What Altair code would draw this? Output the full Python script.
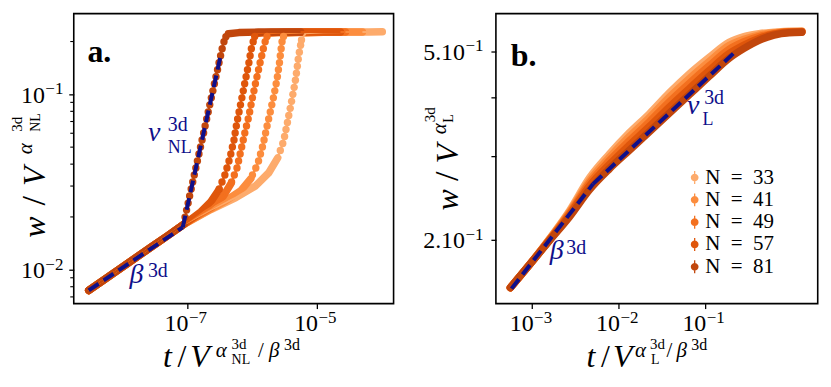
import altair as alt
import pandas as pd

FONT = "Liberation Serif"
NAVY = "#0f0f8a"

SIZES = [33, 41, 49, 57, 81]
COLORS = ["#fdab6c", "#fc8d3e", "#f3701f", "#df560b", "#c1460c"]

# ---------------- panel a : log10 values ----------------
TRUNK_T = [-8.518, -8.300, -8.050, -7.800, -7.550, -7.300, -7.046]
TRUNK_W = [-2.118, -2.062, -1.998, -1.934, -1.870, -1.806, -1.740]

A33_EARLY_T = [-6.631, -6.246, -5.938, -5.738, -5.600]
A33_EARLY_W = [-1.657, -1.589, -1.521, -1.447, -1.362]
A33_RISE_T = [-5.560, -5.522, -5.494, -5.472, -5.450, -5.429, -5.407, -5.386, -5.366,
              -5.346, -5.327, -5.311, -5.297, -5.283, -5.266, -5.247, -5.233]
A33_RISE_W = [-1.32, -1.28, -1.24, -1.20, -1.16, -1.12, -1.08, -1.04, -1.00,
              -0.96, -0.92, -0.88, -0.84, -0.80, -0.76, -0.72, -0.69]
A33_LATE_T = [-5.169, -4.900, -4.500, -4.200, -3.985]
A33_LATE_W = [-0.652, -0.646, -0.645, -0.645, -0.643]

A41_EARLY_T = [-6.708, -6.400, -6.169, -6.015]
A41_EARLY_W = [-1.669, -1.606, -1.549, -1.481]
A41_RISE_T = [-5.989, -5.938, -5.896, -5.866, -5.836, -5.811, -5.787, -5.764, -5.740, -5.715,
              -5.691, -5.667, -5.645, -5.624, -5.605, -5.589, -5.573, -5.560, -5.547, -5.533, -5.510]
A41_RISE_W = [-1.46, -1.42, -1.38, -1.34, -1.30, -1.26, -1.22, -1.18, -1.14, -1.10,
              -1.06, -1.02, -0.98, -0.94, -0.90, -0.86, -0.82, -0.78, -0.74, -0.70, -0.67]
A41_LATE_T = [-5.492, -5.200, -4.800, -4.500, -4.292]
A41_LATE_W = [-0.652, -0.646, -0.645, -0.645, -0.645]

A49_EARLY_T = [-6.862, -6.631, -6.446, -6.323]
A49_EARLY_W = [-1.697, -1.646, -1.584, -1.510]
A49_RISE_T = [-6.312, -6.270, -6.229, -6.204, -6.180, -6.156, -6.132, -6.108, -6.082, -6.056, -6.033,
              -6.012, -5.990, -5.967, -5.944, -5.920, -5.896, -5.872, -5.847, -5.822, -5.794, -5.765]
A49_RISE_W = [-1.50, -1.46, -1.42, -1.38, -1.34, -1.30, -1.26, -1.22, -1.18, -1.14, -1.10,
              -1.06, -1.02, -0.98, -0.94, -0.90, -0.86, -0.82, -0.78, -0.74, -0.70, -0.67]
A49_LATE_T = [-5.738, -5.500, -5.100, -4.800, -4.554]
A49_LATE_W = [-0.652, -0.646, -0.645, -0.645, -0.645]

A57_EARLY_T = [-6.969, -6.785, -6.631, -6.508]
A57_EARLY_W = [-1.720, -1.669, -1.612, -1.544]
A57_RISE_T = [-6.503, -6.460, -6.416, -6.384, -6.352, -6.324, -6.300, -6.275, -6.257, -6.239, -6.219, -6.197,
              -6.175, -6.153, -6.132, -6.110, -6.088, -6.067, -6.045, -6.026, -6.007, -5.979, -5.955]
A57_RISE_W = [-1.54, -1.50, -1.46, -1.42, -1.38, -1.34, -1.30, -1.26, -1.22, -1.18, -1.14, -1.10,
              -1.06, -1.02, -0.98, -0.94, -0.90, -0.86, -0.82, -0.78, -0.74, -0.70, -0.67]
A57_LATE_T = [-5.908, -5.700, -5.300, -4.900, -4.631]
A57_LATE_W = [-0.652, -0.646, -0.645, -0.645, -0.645]

A81_EARLY_T = []
A81_EARLY_W = []
A81_RISE_T = [-7.031, -7.007, -6.983, -6.960, -6.936, -6.912, -6.888, -6.864, -6.840, -6.816, -6.792, -6.768, -6.744,
              -6.721, -6.697, -6.673, -6.649, -6.625, -6.601, -6.577, -6.553, -6.529, -6.506, -6.482, -6.458, -6.430, -6.400]
A81_RISE_W = [-1.70, -1.66, -1.62, -1.58, -1.54, -1.50, -1.46, -1.42, -1.38, -1.34, -1.30, -1.26, -1.22,
              -1.18, -1.14, -1.10, -1.06, -1.02, -0.98, -0.94, -0.90, -0.86, -0.82, -0.78, -0.74, -0.70, -0.672]
A81_LATE_T = [-6.360, -6.200, -5.900, -5.600, -5.246]
A81_LATE_W = [-0.655, -0.648, -0.645, -0.645, -0.645]

A_BETA_T = [-8.518, -7.066]
A_BETA_W = [-2.118, -1.758]
A_NU_T = [-7.066, -6.477]
A_NU_W = [-1.758, -0.773]

# ---------------- panel b ----------------
B_T = [-3.251, -3.027, -2.796, -2.565, -2.334, -2.104, -1.873, -1.642, -1.412,
       -1.181, -0.950, -0.719, -0.546, -0.373, -0.200, -0.027, 0.123]
B33_W = [-0.800, -0.751, -0.696, -0.637, -0.568, -0.518, -0.473, -0.433, -0.389,
         -0.349, -0.314, -0.282, -0.270, -0.264, -0.261, -0.259, -0.259]
B41_W = [-0.800, -0.751, -0.697, -0.640, -0.574, -0.525, -0.481, -0.441, -0.398,
         -0.359, -0.323, -0.289, -0.276, -0.267, -0.262, -0.260, -0.259]
B49_W = [-0.800, -0.751, -0.698, -0.643, -0.579, -0.532, -0.490, -0.450, -0.408,
         -0.369, -0.332, -0.297, -0.281, -0.270, -0.264, -0.260, -0.260]
B57_W = [-0.800, -0.751, -0.699, -0.646, -0.585, -0.540, -0.499, -0.460, -0.419,
         -0.380, -0.342, -0.306, -0.288, -0.274, -0.265, -0.261, -0.260]
B81_W = [-0.800, -0.751, -0.700, -0.650, -0.593, -0.549, -0.510, -0.471, -0.432,
         -0.393, -0.354, -0.316, -0.295, -0.278, -0.267, -0.262, -0.261]

B_BETA_T = [-3.238, -2.293]
B_BETA_W = [-0.802, -0.581]
B_NU_T = [-2.293, -0.662]
B_NU_W = [-0.581, -0.3046]

A_XLIM = [-8.749, -3.811]
A_YLIM = [-2.193, -0.540]
B_XLIM = [-3.419, 0.307]
B_YLIM = [-0.8336, -0.2217]

# tick values and their labels (mantissa, exponent)
A_XTICKS = [1e-7, 1e-5]
A_XEXP = ["−7", "−5"]
A_YTICKS = [1e-2, 1e-1]
A_YEXP = ["−2", "−1"]
A_MINOR = [0.007, 0.008, 0.009, 0.02, 0.03, 0.04, 0.05, 0.06, 0.07, 0.08, 0.09, 0.2]
B_XTICKS = [1e-3, 1e-2, 1e-1]
B_XEXP = ["−3", "−2", "−1"]
B_YTICKS = [0.2, 0.3, 0.4, 0.5]
B_YLAB = [0.2, 0.5]
B_YBASE = ["2.10", "5.10"]
B_YEXP = ["−1", "−1"]

# ---------------- tables ----------------
A_SERIES = {
    33: (A33_EARLY_T, A33_EARLY_W, A33_RISE_T, A33_RISE_W, A33_LATE_T, A33_LATE_W),
    41: (A41_EARLY_T, A41_EARLY_W, A41_RISE_T, A41_RISE_W, A41_LATE_T, A41_LATE_W),
    49: (A49_EARLY_T, A49_EARLY_W, A49_RISE_T, A49_RISE_W, A49_LATE_T, A49_LATE_W),
    57: (A57_EARLY_T, A57_EARLY_W, A57_RISE_T, A57_RISE_W, A57_LATE_T, A57_LATE_W),
    81: (A81_EARLY_T, A81_EARLY_W, A81_RISE_T, A81_RISE_W, A81_LATE_T, A81_LATE_W),
}
rows = []
for n in SIZES:
    et, ew, rt, rw, lt, lw = A_SERIES[n]
    for t, w in zip(TRUNK_T + et, TRUNK_W + ew):
        rows.append({"N": n, "seg": "early", "t": 10 ** t, "w": 10 ** w})
    for t, w in zip(rt, rw):
        rows.append({"N": n, "seg": "rise", "t": 10 ** t, "w": 10 ** w})
    for t, w in zip(lt, lw):
        rows.append({"N": n, "seg": "late", "t": 10 ** t, "w": 10 ** w})
df_a = pd.DataFrame(rows)

fit_a = pd.DataFrame(
    [{"seg": "beta", "t": 10 ** t, "w": 10 ** w} for t, w in zip(A_BETA_T, A_BETA_W)]
    + [{"seg": "nu", "t": 10 ** t, "w": 10 ** w} for t, w in zip(A_NU_T, A_NU_W)]
)

B_SERIES = {33: B33_W, 41: B41_W, 49: B49_W, 57: B57_W, 81: B81_W}
df_b = pd.DataFrame(
    [{"N": n, "t": 10 ** t, "w": 10 ** w} for n in SIZES for t, w in zip(B_T, B_SERIES[n])]
)
fit_b = pd.DataFrame(
    [{"seg": "beta", "t": 10 ** t, "w": 10 ** w} for t, w in zip(B_BETA_T, B_BETA_W)]
    + [{"seg": "nu", "t": 10 ** t, "w": 10 ** w} for t, w in zip(B_NU_T, B_NU_W)]
)


def txt(s, x, y, size, style="normal", weight="normal", color="black", angle=0):
    return alt.Chart(pd.DataFrame({"s": [s]})).mark_text(
        align="left", baseline="alphabetic", font=FONT, fontSize=size,
        fontStyle=style, fontWeight=weight, color=color, angle=angle,
    ).encode(x=alt.value(x), y=alt.value(y), text="s:N")


def xlabels(vals, exps, XENC):
    df = pd.DataFrame({"t": vals, "b": ["10"] * len(vals), "e": exps})
    base = alt.Chart(df).mark_text(align="right", baseline="alphabetic", font=FONT,
                                   fontSize=24, dx=1.5).encode(
        x=XENC, y=alt.value(318.4), text="b:N")
    exp = alt.Chart(df).mark_text(align="left", baseline="alphabetic", font=FONT,
                                  fontSize=17, dx=2).encode(
        x=XENC, y=alt.value(310.5), text="e:N")
    return [base, exp]


def ylabels(vals, bases, exps, YENC, xr):
    df = pd.DataFrame({"w": vals, "b": bases, "e": exps})
    base = alt.Chart(df).mark_text(align="right", baseline="alphabetic", font=FONT,
                                   fontSize=24, dy=8.4).encode(
        y=YENC, x=alt.value(xr), text="b:N")
    exp = alt.Chart(df).mark_text(align="left", baseline="alphabetic", font=FONT,
                                  fontSize=17, dy=0).encode(
        y=YENC, x=alt.value(xr + 0.5), text="e:N")
    return [base, exp]


# ---------------- panel a ----------------
cscale = alt.Scale(domain=SIZES, range=COLORS)
color_a = alt.Color("N:O", scale=cscale, legend=None)

xa = alt.Scale(type="log", domain=[10 ** A_XLIM[0], 10 ** A_XLIM[1]], nice=False)
ya = alt.Scale(type="log", domain=[10 ** A_YLIM[0], 10 ** A_YLIM[1]], nice=False)
ax_xa = alt.Axis(values=A_XTICKS, title=None, labels=False)
ax_ya = alt.Axis(values=A_YTICKS, title=None, labels=False)
XA = alt.X("t:Q", scale=xa, axis=ax_xa)
YA = alt.Y("w:Q", scale=ya, axis=ax_ya)

thick_a = alt.Chart(df_a).transform_filter("datum.seg != 'rise'").mark_line(
    strokeWidth=7.5, strokeCap="round", strokeJoin="round"
).encode(x=XA, y=YA, color=color_a, detail="seg:N")
thin_a = alt.Chart(df_a).mark_line(strokeWidth=2).encode(x=XA, y=YA, color=color_a)
pts_a = alt.Chart(df_a).transform_filter("datum.seg == 'rise'").mark_circle(size=55, opacity=1).encode(
    x=XA, y=YA, color=color_a)
fitl_a = alt.Chart(fit_a).mark_line(color=NAVY, strokeWidth=4, strokeDash=[12, 6]).encode(
    x=XA, y=YA, detail="seg:N")
minor_a = alt.Chart(pd.DataFrame({"w": A_MINOR})).mark_rule(color="black", strokeWidth=1.1).encode(
    y=YA, x=alt.value(0), x2=alt.value(-3.5))

texts_a = [
    txt("a.", 13.7, 48.7, 32, weight="bold"),
    txt("ν", 74.4, 127.7, 28, style="italic", color=NAVY),
    txt("3d", 94.4, 117.7, 20, color=NAVY),
    txt("NL", 94.4, 139.4, 18, color=NAVY),
    txt("β", 56, 270, 28, style="italic", color=NAVY),
    txt("3d", 74.4, 264.4, 20, color=NAVY),
    # x title
    txt("t", 89.5, 355, 32, style="italic"),
    txt("/", 104.0, 355, 32),
    txt("V", 117.0, 355, 32, style="italic"),
    txt("α", 142.5, 344.4, 21, style="italic"),
    txt("3d", 158.4, 337.0, 15),
    txt("NL", 158.4, 352.0, 14),
    txt("/", 185.0, 344.4, 21),
    txt("β", 196.0, 344.4, 21, style="italic"),
    txt("3d", 211.0, 337.5, 16),
    # y title
    txt("w", -29, 225.0, 32, style="italic", angle=270),
    txt("/", -29, 192.5, 34, angle=270),
    txt("V", -29, 173.0, 32, style="italic", angle=270),
    txt("α", -42.3, 141.0, 21, style="italic", angle=270),
    txt("3d", -52.3, 118.5, 15, angle=270),
    txt("NL", -34.0, 118.5, 14, angle=270),
]
ticklab_a = xlabels(A_XTICKS, A_XEXP, XA) + ylabels(A_YTICKS, ["10", "10"], A_YEXP, YA, -29)

panel_a = alt.layer(thick_a, thin_a, pts_a, fitl_a, minor_a, *ticklab_a, *texts_a).properties(
    width=321, height=291)

# ---------------- panel b ----------------
xb = alt.Scale(type="log", domain=[10 ** B_XLIM[0], 10 ** B_XLIM[1]], nice=False)
yb = alt.Scale(type="log", domain=[10 ** B_YLIM[0], 10 ** B_YLIM[1]], nice=False)
ax_xb = alt.Axis(values=B_XTICKS, title=None, labels=False)
ax_yb = alt.Axis(values=B_YTICKS, title=None, labels=False)
XB = alt.X("t:Q", scale=xb, axis=ax_xb)
YB = alt.Y("w:Q", scale=yb, axis=ax_yb)

SYMBOL = ("M-0.1,-1L0.1,-1L0.1,1L-0.1,1Z"
          "M0.6,0A0.6,0.6,0,1,1,-0.6,0A0.6,0.6,0,1,1,0.6,0Z")
legend_b = alt.Legend(
    orient="none", legendX=189, legendY=154.0, title=None,
    symbolType=SYMBOL, symbolSize=169, symbolOpacity=1, symbolStrokeWidth=0,
    labelFont=FONT, labelFontSize=21, labelOffset=0, rowPadding=0.4, padding=0,
    labelColor="black", labelExpr="'N\u2002=\u2002' + datum.label",
)

pts_b = alt.Chart(df_b).mark_point(filled=True, size=20, shape="circle", opacity=1).encode(
    x=XB, y=YB, color=alt.Color("N:O", scale=cscale, legend=legend_b))
lines_b = alt.Chart(df_b).mark_line(strokeWidth=7.5, strokeCap="round", strokeJoin="round",
                                    interpolate="monotone").encode(
    x=XB, y=YB, color=alt.Color("N:O", scale=cscale, legend=legend_b))
fitl_b = alt.Chart(fit_b).mark_line(color=NAVY, strokeWidth=4, strokeDash=[12, 6]).encode(
    x=XB, y=YB, detail="seg:N")

texts_b = [
    txt("b.", 15, 52.7, 32, weight="bold"),
    txt("ν", 191.7, 101, 28, style="italic", color=NAVY),
    txt("3d", 209, 91, 20, color=NAVY),
    txt("L", 207.3, 111.7, 18, color=NAVY),
    txt("β", 54, 246.7, 28, style="italic", color=NAVY),
    txt("3d", 70.7, 241, 20, color=NAVY),
    # x title
    txt("t", 91.0, 355, 32, style="italic"),
    txt("/", 105.5, 355, 32),
    txt("V", 117.5, 355, 32, style="italic"),
    txt("α", 139.6, 344.4, 21, style="italic"),
    txt("3d", 154.7, 337.0, 15),
    txt("L", 155.7, 352.0, 14),
    txt("/", 171.1, 344.4, 21),
    txt("β", 181.3, 344.4, 21, style="italic"),
    txt("3d", 196.0, 337.5, 16),
    # y title
    txt("w", -37.7, 197.5, 32, style="italic", angle=270),
    txt("/", -37.7, 168.0, 34, angle=270),
    txt("V", -37.7, 150.5, 32, style="italic", angle=270),
    txt("α", -50, 121.0, 21, style="italic", angle=270),
    txt("3d", -61, 109.0, 15, angle=270),
    txt("L", -42.7, 109.5, 14, angle=270),
]
ticklab_b = xlabels(B_XTICKS, B_XEXP, XB) + ylabels(B_YLAB, B_YBASE, B_YEXP, YB, -31)

panel_b = alt.layer(pts_b, lines_b, fitl_b, *ticklab_b, *texts_b).properties(width=323, height=291)

chart = alt.hconcat(panel_a, panel_b, spacing=102.7, bounds="flush").resolve_scale(
    color="independent"
).resolve_legend(color="independent").properties(
    padding={"left": 0, "top": 4, "right": 4, "bottom": 0}, background="white"
).configure_view(
    stroke="black", strokeWidth=1.6
).configure_axis(
    domain=False, grid=False, ticks=True, tickColor="black", tickWidth=1.3, tickSize=5,
)

chart.save("out.html", embed_options={"renderer": "svg", "actions": False})
